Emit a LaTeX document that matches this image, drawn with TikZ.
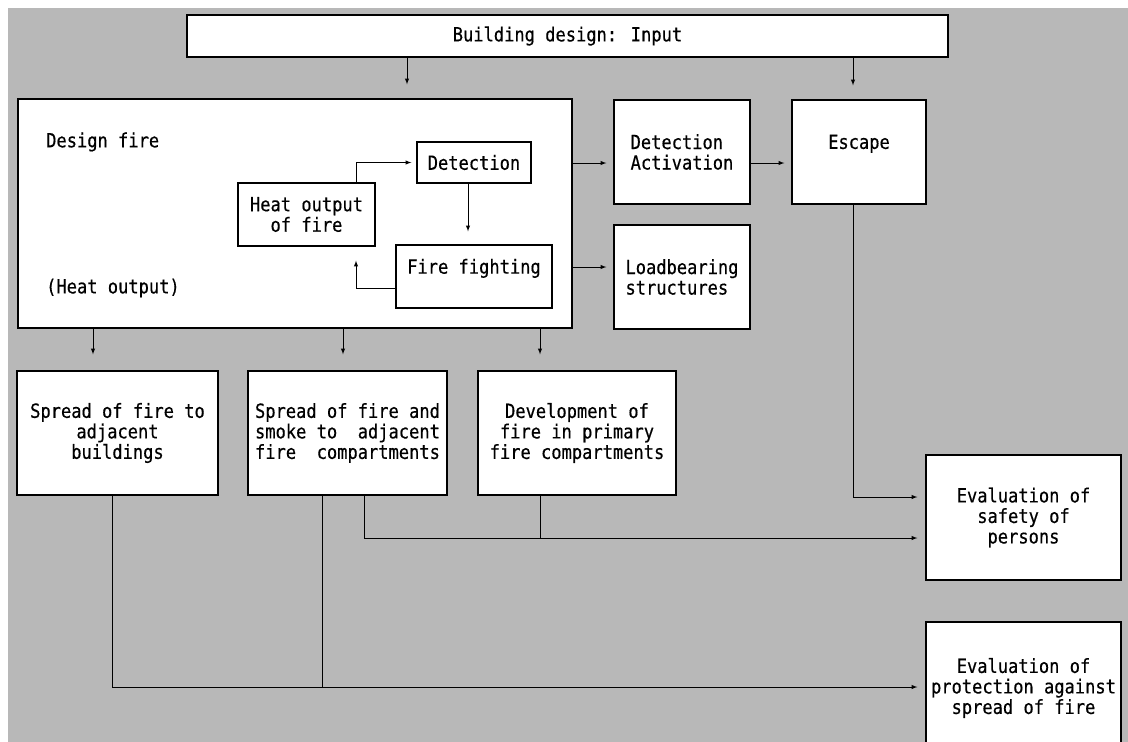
\documentclass[tikz,border=0pt]{standalone}
\usepackage{fontspec}
\newfontfamily\typefont[FakeStretch=0.875,FakeBold=0.4]{DejaVu Sans Mono}
\usetikzlibrary{arrows}
\definecolor{sheet}{HTML}{B8B8B8}

\begin{document}
\begin{tikzpicture}[
  x=1pt, y=-1pt,
  > = latex,
  box/.style = {draw, fill=white, line width=1.3pt, inner sep=0pt, align=center,
    font=\typefont\fontsize{19.5}{20.5}\selectfont},
  txt/.style = {inner sep=0pt, anchor=west, font=\typefont\fontsize{19.5}{20.5}\selectfont},
  link/.style = {line width=1pt}
  ]
  \fill[white] (0,0) rectangle (1128,742);
  \useasboundingbox (0,0) rectangle (1128,742);
  \fill[sheet] (8,8) rectangle (1128,742);

  \node[box, minimum width=761pt, minimum height=42pt] (input) at (567.5,36) {Building design: Input};

  \node[box, minimum width=554pt, minimum height=229pt] (dfire) at (295,213.5) {};
  \node[txt] (dlabel) at (46,142) {Design fire};
  \node[txt] (hlabel) at (46,288) {(Heat output)};
  \node[box, minimum width=137pt, minimum height=63pt] (heat) at (306.5,214.5) {Heat output\\of fire};
  \node[box, minimum width=114pt, minimum height=41pt] (detect) at (474,162.5) {Detection};
  \node[box, minimum width=156pt, minimum height=63pt] (fight) at (474,276.5) {Fire fighting\\\mbox{}};

  \node[box, minimum width=136pt, minimum height=104pt, align=left] (detact) at (682,152) {Detection\\Activation};
  \node[box, minimum width=134pt, minimum height=104pt] (escape) at (859,152) {Escape\\\mbox{}};
  \node[box, minimum width=136pt, minimum height=104pt, align=left] (load) at (682,277) {Loadbearing\\structures};

  \node[box, minimum width=201pt, minimum height=124pt] (spreadb) at (117.5,433) {Spread of fire to\\adjacent\\buildings};
  \node[box, minimum width=199pt, minimum height=124pt] (spreads) at (347.5,433) {Spread of fire and\\smoke to\ \ adjacent\\fire\ \ compartments};
  \node[box, minimum width=198pt, minimum height=124pt] (devel) at (577,433) {Development of\\fire in primary\\fire compartments};

  \node[box, minimum width=195pt, minimum height=125pt] (evsafe) at (1023.5,517.5) {Evaluation of\\safety of\\persons};
  \node[box, minimum width=195pt, minimum height=132pt] (evprot) at (1023.5,688) {Evaluation of\\protection against\\spread of fire};

  \coordinate (jsafe) at (540,538);
  \coordinate (jprot) at (322,687);

  \draw[link, ->, shorten >=14pt] (input.south -| 407,0) -- (dfire.north -| 407,0);
  \draw[link, ->, shorten >=14pt] (input.south -| 853,0) -- (escape.north -| 853,0);

  \draw[link, ->, shorten >=5pt] (heat.north -| 356,0) |- (detect.west);
  \draw[link, ->, shorten >=13pt] (detect.south -| 468,0) -- (fight.north -| 468,0);
  \draw[link, ->, shorten >=14pt] (fight.west |- 0,288) -| (heat.south -| 356,0);

  \draw[link, ->, shorten >=7pt] (dfire.east |- 0,163) -- (detact.west |- 0,163);
  \draw[link, ->, shorten >=7pt] (detact.east |- 0,163) -- (escape.west |- 0,163);
  \draw[link, ->, shorten >=7pt] (dfire.east |- 0,267) -- (load.west |- 0,267);

  \foreach \x/\t in {93/spreadb, 343/spreads, 540/devel}
    \draw[link, ->, shorten >=16pt] (dfire.south -| \x,0) -- (\t.north -| \x,0);

  \draw[link, ->, shorten >=8pt] (escape.south -| 853,0) |- (evsafe.west |- 0,497);
  \draw[link, ->, shorten >=8pt] (spreads.south -| 364,0) |- (evsafe.west |- jsafe);
  \draw[link] (devel.south -| jsafe) -- (jsafe);
  \draw[link, ->, shorten >=8pt] (spreadb.south -| 112,0) |- (evprot.west |- jprot);
  \draw[link] (spreads.south -| jprot) -- (jprot);

\end{tikzpicture}
\end{document}
